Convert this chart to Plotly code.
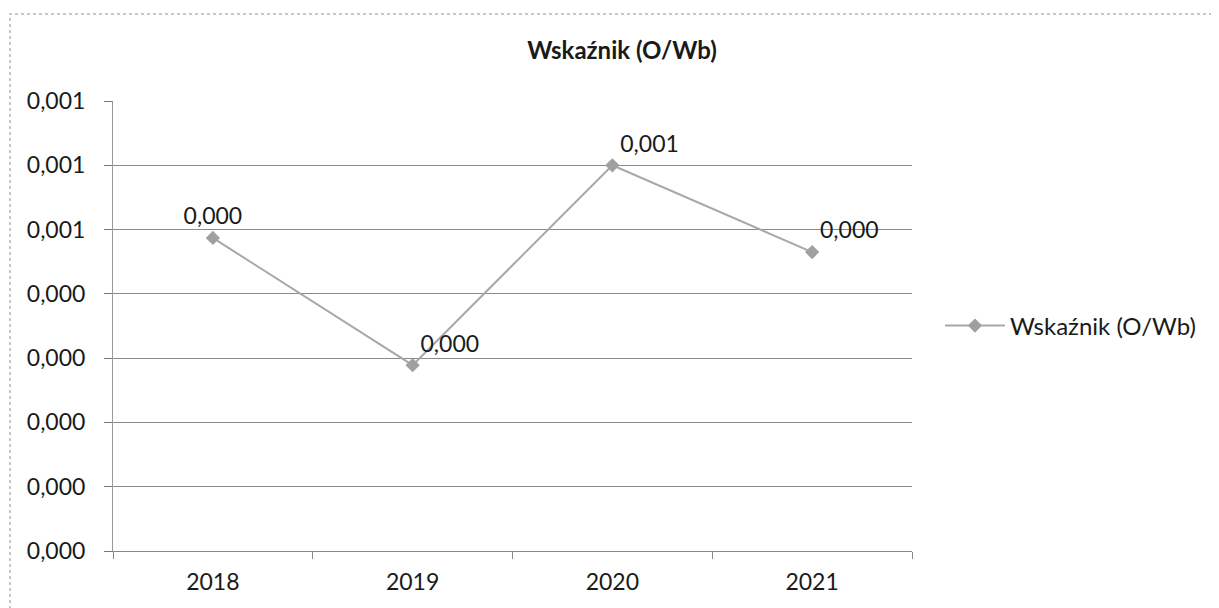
import plotly.graph_objects as go

categories = ["2018", "2019", "2020", "2021"]
values = [0.000487, 0.000289, 0.000600, 0.000465]
y_tick_values = [0.0, 0.0001, 0.0002, 0.0003, 0.0004, 0.0005, 0.0006, 0.0007]
y_tick_labels = ["0,000", "0,000", "0,000", "0,000", "0,000", "0,001", "0,001", "0,001"]
series_name = "Wskaźnik (O/Wb)"
title_text = "Wskaźnik (O/Wb)"

FONT = "Lato, 'Open Sans', sans-serif"
TXT = "#1a1a1a"

fig = go.Figure()
fig.add_trace(go.Scatter(
    x=categories, y=values, name=series_name,
    mode="lines+markers+text",
    line=dict(color="#a8a8a8", width=2),
    marker=dict(symbol="diamond", size=11, color="#a0a0a0"),
    texttemplate="%{y:.3f}",
    textposition=["top center", "top right", "top right", "top right"],
    textfont=dict(family=FONT, size=23, color=TXT),
    cliponaxis=False,
))

# page has an 8px body margin, so figure coords = page coords - 8
fig.update_layout(
    width=1219, height=608,
    margin=dict(l=105, r=315, t=93, b=65),
    paper_bgcolor="white", plot_bgcolor="white",
    separators=",.",
    title=dict(text="<b>" + title_text + "</b>", x=614 / 1219, xanchor="center",
               y=1 - 43 / 608, yanchor="middle",
               font=dict(family=FONT, size=24, color=TXT)),
    showlegend=True,
    legend=dict(x=1.035, y=0.5, xanchor="left", yanchor="middle",
                font=dict(family=FONT, size=24, color=TXT),
                bgcolor="rgba(0,0,0,0)", itemwidth=60),
    xaxis=dict(type="category", tickson="boundaries", ticks="outside", ticklen=7,
               tickcolor="#888888", showline=True, linecolor="#888888", linewidth=1,
               showgrid=False, tickfont=dict(family=FONT, size=23, color=TXT),
               ticklabelstandoff=10, range=[-0.5, 3.5]),
    yaxis=dict(range=[0, 0.0007], tickvals=y_tick_values, ticktext=y_tick_labels,
               ticks="outside", ticklen=8, tickcolor="#777777",
               showgrid=True, gridcolor="#8a8a8a", gridwidth=1,
               showline=True, linecolor="#999999", linewidth=1, zeroline=False,
               ticklabelstandoff=14,
               tickfont=dict(family=FONT, size=23, color=TXT)),
    shapes=[dict(type="rect", xref="paper", yref="paper",
                 x0=(2 - 105) / 799, x1=(1240 - 105) / 799,
                 y0=(543 - 640) / 450, y1=(543 - 6) / 450,
                 line=dict(color="#b5b5b5", width=1.5, dash="dot"))],
)

fig.write_html("out.html")
